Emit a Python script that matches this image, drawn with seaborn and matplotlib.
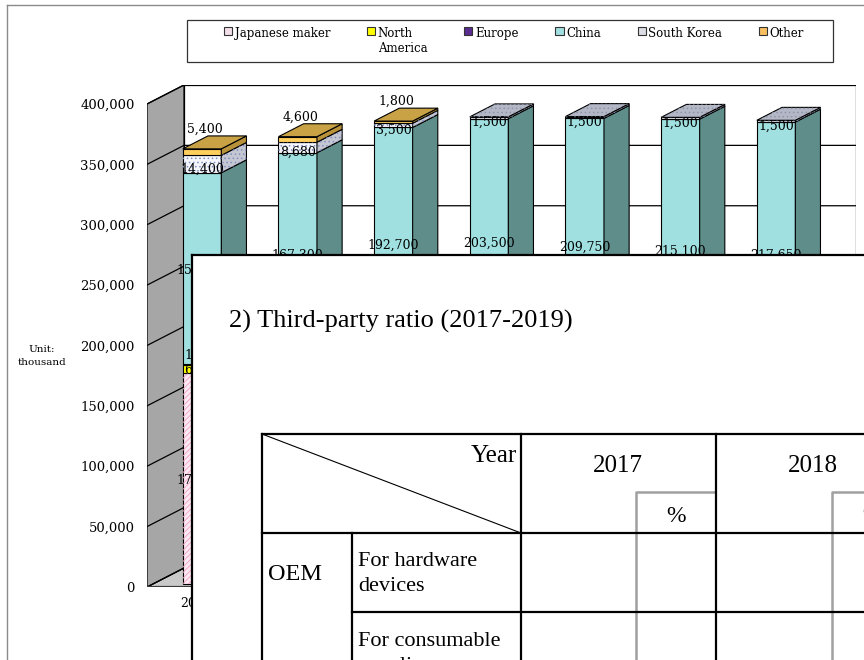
import matplotlib
matplotlib.use("Agg")
import matplotlib.pyplot as plt
import seaborn as sns
from matplotlib.patches import Polygon, Rectangle, Patch
from matplotlib.lines import Line2D

# ---------------- data ----------------
years = ["2017", "2018", "2019", "2020", "2021", "2022", "2023"]
series = ["Japanese maker", "North\nAmerica", "Europe", "China", "South Korea", "Other"]
japanese = [175000, 183000, 178500, 175000, 169000, 163000, 158000]
north_america = [6500, 6000, 6000, 6000, 6000, 6000, 6000]
europe = [1200, 1000, 1000, 1000, 1000, 1000, 1000]
china = [158000, 167300, 192700, 203500, 209750, 215100, 217650]
south_korea = [14400, 8680, 3500, 1500, 1500, 1500, 1500]
other = [5400, 4600, 1800, 0, 0, 0, 0]
y_ticks = [0, 50000, 100000, 150000, 200000, 250000, 300000, 350000, 400000]

# table text (overlay)
table_title = "2) Third-party ratio (2017-2019)"
table_years = ["2017", "2018"]

# ---------------- styles ----------------
SERIF = ["DejaVu Serif"]
TSERIF = ["Liberation Serif", "DejaVu Serif"]
plt.rcParams["font.family"] = SERIF
plt.rcParams["hatch.linewidth"] = 0.6

front_col = ["#fde9f2", "#ffff00", "#5b2c8f", "#a1e0e0", "#f4f6fb", "#ffcf5e"]
side_col = ["#d9b8c8", "#c8c800", "#3d1a66", "#5f8d8a", "#c4c6d2", "#b8923a"]
top_col = ["#efd2e0", "#e6e600", "#4a2478", "#7fb8b8", "#b4b8c6", "#c9a245"]
hatch_pat = ["//////", None, None, None, "....", None]
hatch_col = ["#f0a0c6", None, None, None, "#8090c0", None]
legend_col = ["#f2dfea", "#ffff00", "#5b2c8f", "#a1e0e0", "#dcdce4", "#f8c060"]

W_PX, H_PX = 864, 660
def fx(px):
    return px / W_PX
def fy(py):
    return 1 - py / H_PX

fig = plt.figure(figsize=(8.64, 6.6), dpi=100)

# page border
fig.add_artist(Line2D([fx(7), fx(7)], [0, fy(5)], transform=fig.transFigure, color="#8a8a8a", lw=1))
fig.add_artist(Line2D([fx(7), 1], [fy(5), fy(5)], transform=fig.transFigure, color="#8a8a8a", lw=1))

# ---------------- 3D-like chart ----------------
ax = fig.add_axes([fx(147), fy(587), (856 - 147) / W_PX, (587 - 85) / H_PX])
PX_PER_CAT = 95.67
PX_PER_VAL = (587 - 104) / 400000
XMIN = (147 - 196.5) / PX_PER_CAT
XMAX = (856 - 196.5) / PX_PER_CAT
YMAX = (587 - 85) / PX_PER_VAL
DX = 37 / PX_PER_CAT
DY = 19 / PX_PER_VAL
D0 = 0.15       # bar front depth fraction
BD = 0.68       # bar depth fraction
BW = 38.5 / PX_PER_CAT
TOP = y_ticks[-1]

# walls
ax.add_patch(Polygon([(XMIN + DX, DY), (XMAX, DY), (XMAX, TOP + DY), (XMIN + DX, TOP + DY)],
                     closed=True, facecolor="white", edgecolor="black", lw=0.9, zorder=0.2))
ax.add_patch(Polygon([(XMIN, 0), (XMAX - DX, 0), (XMAX, DY), (XMIN + DX, DY)],
                     closed=True, facecolor="#c9c9c9", edgecolor="black", lw=0.8, zorder=0.2))
ax.add_patch(Polygon([(XMIN, 0), (XMIN + DX, DY), (XMIN + DX, TOP + DY), (XMIN, TOP)],
                     closed=True, facecolor="#a6a6a6", edgecolor="black", lw=0.9, zorder=0.25))
for v in y_ticks:
    ax.plot([XMIN, XMIN + DX, XMAX], [v, v + DY, v + DY], color="black", lw=0.9, zorder=0.3)
ax.plot([XMIN, XMAX - DX], [0, 0], color="#3a3a3a", lw=1.6, zorder=0.35)

# stacked bars
segments = [japanese, north_america, europe, china, south_korea, other]
n = len(years)
xpos = [i + D0 * DX for i in range(n)]
below = [D0 * DY] * n
tops = [None] * n
top_seg = [None] * n
for s, vals in enumerate(segments):
    sns.barplot(x=xpos, y=vals, bottom=below, native_scale=True, orient="x", width=BW,
                color=front_col[s], saturation=1, edgecolor="black", linewidth=0.8,
                errorbar=None, ax=ax, zorder=1)
    for i, (b, v) in enumerate(zip(below, vals)):
        if v <= 0:
            continue
        xl = xpos[i] - BW / 2
        xr = xpos[i] + BW / 2
        y0, y1 = b, b + v
        if hatch_pat[s]:
            ax.add_patch(Rectangle((xl, y0), BW, v, facecolor="none", edgecolor=hatch_col[s],
                                   lw=0, hatch=hatch_pat[s], zorder=1.05))
        side = [(xr, y0), (xr + BD * DX, y0 + BD * DY), (xr + BD * DX, y1 + BD * DY), (xr, y1)]
        ax.add_patch(Polygon(side, closed=True, facecolor=side_col[s], edgecolor="black",
                             lw=0.8, zorder=1.1))
        if hatch_pat[s]:
            ax.add_patch(Polygon(side, closed=True, facecolor="none", edgecolor=hatch_col[s],
                                 lw=0, hatch="....", zorder=1.15))
        tops[i] = y1
        top_seg[i] = s
        # data labels
        cx = xpos[i]
        label = f"{v:,}"
        if s == 5:
            ax.text(cx + 0.03, y1 + BD * DY, label, ha="center", va="bottom",
                    fontsize=9, zorder=3)
        elif s == 2:
            ax.text(cx, y1 + 1500, label, ha="center", va="bottom", fontsize=9, zorder=3)
        elif s == 4:
            ax.text(cx, (y0 + y1) / 2 - 4000, label, ha="center", va="center",
                    fontsize=9, zorder=3)
        else:
            ax.text(cx, (y0 + y1) / 2 - 1500, label, ha="center", va="center",
                    fontsize=9, zorder=3)
    below = [b + v for b, v in zip(below, vals)]

# top faces
for i in range(n):
    s = top_seg[i]
    xl = xpos[i] - BW / 2
    xr = xpos[i] + BW / 2
    yt = tops[i]
    face = [(xl, yt), (xr, yt), (xr + BD * DX, yt + BD * DY), (xl + BD * DX, yt + BD * DY)]
    ax.add_patch(Polygon(face, closed=True, facecolor=top_col[s], edgecolor="black",
                         lw=0.8, zorder=1.2))
    if hatch_pat[s]:
        ax.add_patch(Polygon(face, closed=True, facecolor="none", edgecolor="#8f94a8",
                             lw=0, hatch="....", zorder=1.25))

ax.set_xlim(XMIN, XMAX)
ax.set_ylim(0, YMAX)
ax.set_xticks(range(n), years)
ax.set_yticks(y_ticks, [f"{v:,}" for v in y_ticks])
ax.tick_params(axis="y", length=0, pad=9, labelsize=9.5)
ax.tick_params(axis="x", length=0, pad=7, labelsize=9)
for sp in ax.spines.values():
    sp.set_visible(False)
ax.patch.set_visible(False)
ax.set_xlabel("")
ax.set_ylabel("Unit:\nthousand", rotation=0, fontsize=7.5, ha="center", va="center",
              linespacing=1.5)
ax.yaxis.set_label_coords((42 - 147) / (856 - 147), (587 - 356) / (587 - 85))

# legend
fig.add_artist(Rectangle((fx(187), fy(62)), (833 - 187) / W_PX, 42 / H_PX,
                         transform=fig.transFigure, facecolor="white", edgecolor="#333333",
                         lw=0.9))
handles = [Patch(facecolor=c, edgecolor="#333333", lw=0.8) for c in legend_col]
leg = fig.legend(handles, series, ncol=6, loc="upper left",
                 bbox_to_anchor=(fx(224), fy(27), (804 - 224) / W_PX, 0.0),
                 mode="expand", frameon=False, fontsize=8.5, handlelength=0.7,
                 handleheight=0.7, handletextpad=0.2, borderpad=0, borderaxespad=0)
try:
    hb = leg._legend_handle_box
    hb.align = "top"
    for col in hb.get_children():
        for item in col.get_children():
            item.align = "top"
except Exception:
    pass

# ---------------- overlaid table image ----------------
ov = fig.add_axes([fx(192), 0, (864 - 192) / W_PX, (660 - 255) / H_PX], zorder=10)
ov.set_xlim(192, 864)
ov.set_ylim(660, 255)
ov.set_facecolor("white")
ov.set_xticks([])
ov.set_yticks([])
for k in ["right", "bottom"]:
    ov.spines[k].set_visible(False)
for k in ["left", "top"]:
    ov.spines[k].set_linewidth(1.6)
    ov.spines[k].set_color("black")

G = dict(color="#a0a0a0", lw=1.8, solid_capstyle="butt", clip_on=False)
ov.plot([636, 636, 716], [660, 492, 492], **G)
ov.plot([864, 832, 832], [492, 492, 660], **G)
K = dict(color="black", lw=1.6, solid_capstyle="projecting", clip_on=False)
ov.plot([262, 864], [434, 434], **K)
ov.plot([262, 864], [533, 533], **K)
ov.plot([352, 864], [612, 612], **K)
ov.plot([262, 262], [434, 660], **K)
ov.plot([352, 352], [533, 660], **K)
ov.plot([521, 521], [434, 660], **K)
ov.plot([716, 716], [434, 660], **K)
ov.plot([262, 521], [434, 533], color="black", lw=0.8)

ov.text(229, 321, table_title, fontsize=19, family=TSERIF, ha="left", va="center")
ov.text(517, 456, "Year", fontsize=18, family=TSERIF, ha="right", va="center")
ov.text(618, 466, table_years[0], fontsize=18, family=TSERIF, ha="center", va="center")
ov.text(813, 466, table_years[1], fontsize=18, family=TSERIF, ha="center", va="center")
ov.text(676, 516, "%", fontsize=17, family=TSERIF, ha="center", va="center")
ov.text(872, 516, "%", fontsize=17, family=TSERIF, ha="center", va="center")
ov.text(268, 574, "OEM", fontsize=17.5, family=TSERIF, ha="left", va="center")
ov.text(358, 574, "For hardware\ndevices", fontsize=16, family=TSERIF, ha="left",
        va="center", linespacing=1.4)
ov.text(358, 632, "For consumable\nsupplies", fontsize=16, family=TSERIF, ha="left",
        va="top", linespacing=1.4)

fig.savefig("out.png", dpi=100)
